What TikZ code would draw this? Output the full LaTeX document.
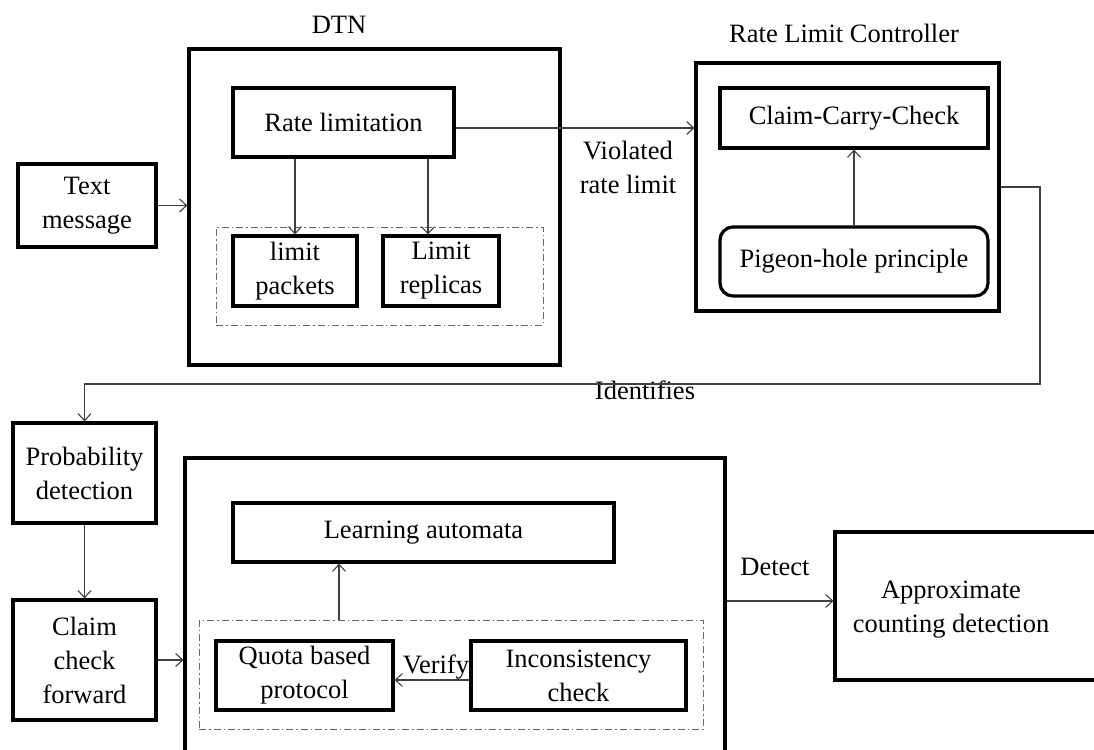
\documentclass[tikz,border=0pt]{standalone}
\usepackage{fontspec}
\setmainfont{Liberation Serif}
\usetikzlibrary{arrows.meta,calc}
\begin{document}
\begin{tikzpicture}[x=1pt,y=-1pt,
  every node/.style={font=\fontsize{26.5}{34}\selectfont},
  blk/.style={draw=black,line width=3.2pt,inner sep=0pt,align=center},
  txt/.style={inner sep=0pt,align=center},
  grp/.style={draw=black!60,line width=1pt,dash pattern=on 7pt off 3pt on 1.5pt off 3pt,inner sep=0pt},
  arr/.style={draw=black!75,line width=1.1pt,-{Straight Barb[length=7pt,width=13pt,line width=1.1pt]}},
  lnk/.style={draw=black!75,line width=1.1pt}]
\useasboundingbox (0,0) rectangle (1094,749);

% --- DTN block ---
\node[txt] (dtnlbl) at (339,25) {DTN};
\node[blk,minimum width=371,minimum height=316] (dtn) at (374.5,207) {};
\node[blk,minimum width=221,minimum height=69] (rl) at (343.5,122.5) {Rate limitation};
\node[grp,minimum width=327,minimum height=98] (dd1) at (379.5,276) {};
\node[blk,minimum width=124,minimum height=70] (lp) at (295,271) {limit\\packets};
\node[blk,minimum width=116,minimum height=70] (lr) at (441,271) {Limit\\replicas};
\node[blk,minimum width=138,minimum height=83] (tm) at (87,205.5) {Text\\message};

% --- Rate limit controller ---
\node[txt] (rlclbl) at (844,33) {Rate Limit Controller};
\node[blk,minimum width=303,minimum height=248] (rlc) at (847.5,187) {};
\node[blk,minimum width=268,minimum height=60] (ccc) at (854,118) {Claim-Carry-Check};
\node[blk,rounded corners=13pt,minimum width=268,minimum height=69] (pg) at (854,261.5) {Pigeon-hole principle};
\node[txt] (viol) at (628,167) {Violated\\rate limit};

% --- lower row ---
\node[blk,minimum width=143,minimum height=100] (pd) at (84.5,473) {Probability\\detection};
\node[blk,minimum width=143,minimum height=120] (cf) at (84.5,660) {Claim\\check\\forward};
\node[blk,minimum width=540,minimum height=332] (big) at (455,624) {};
\node[blk,minimum width=381,minimum height=59] (la) at (423.5,532.5) {Learning automata};
\node[grp,minimum width=504,minimum height=109] (dd2) at (451,674.5) {};
\node[blk,minimum width=177,minimum height=69] (qb) at (304.5,675.5) {Quota based\\protocol};
\node[blk,minimum width=215,minimum height=69] (ic) at (578.5,675.5) {Inconsistency\\check};
\node[txt,anchor=base] (ver) at (436,673) {Verify};
\node[blk,minimum width=275,minimum height=148] (acd) at (972.5,606) {};
\node[txt] (acdt) at (951,610) {Approximate\\counting detection};
\node[txt,anchor=base] (det) at (775,575) {Detect};
\node[txt,anchor=base] (idl) at (645,399) {Identifies};
\coordinate (idc) at (1040,384);

% --- connectors ---
\draw[arr] (tm.east) -- (dtn.west |- tm.east);
\draw[arr] (rl.south -| lp.north) -- (lp.north);
\draw[arr] ([xshift=84.5pt]rl.south) -- ([xshift=84.5pt]rl.south |- lr.north);
\draw[arr] ([yshift=-5.5pt]rl.east) -- ([yshift=-5.5pt]rl.east -| rlc.west);
\draw[arr] (pg.north -| ccc.south) -- (ccc.south);
\draw[arr] (rlc.east) -| (idc) -| (pd.north);
\draw[arr] (pd.south) -- (cf.north);
\draw[arr] (cf.east) -- (big.west |- cf.east);
\draw[arr] (dd2.north -| 339,0) -- (la.south -| 339,0);
\draw[arr] ([yshift=-4.5pt]ic.west) -- ([yshift=-4.5pt]ic.west -| qb.east);
\draw[arr] ([yshift=23pt]big.east) -- ([yshift=23pt]big.east -| acd.west);
\end{tikzpicture}
\end{document}
